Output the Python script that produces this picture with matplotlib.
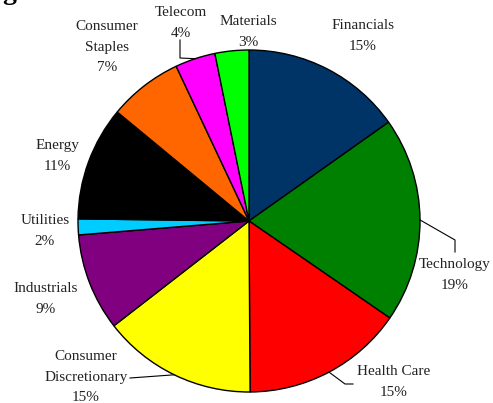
import numpy as np
import matplotlib
matplotlib.use("Agg")
import matplotlib.pyplot as plt

# ---- data ----
sectors = ["Financials", "Technology", "Health Care", "Consumer\nDiscretionary",
           "Industrials", "Utilities", "Energy", "Consumer\nStaples", "Telecom", "Materials"]
weights = [15.2, 19.4, 15.3, 14.6, 9.2, 1.5, 10.8, 7.0, 3.8, 3.2]
colors = ["#003366", "#008000", "#FF0000", "#FFFF00", "#800080",
          "#00CCFF", "#000000", "#FF6600", "#FF00FF", "#00FF00"]

# ---- layout (pixels) ----
W, H = 493, 403
CX, CY, R = 249, 221, 171
# label centres in pixels (x, y from top)
label_pos = [(363, 36), (455, 275), (394, 382), (86, 377), (46, 299),
             (45, 231), (57, 156), (107, 47), (181, 23), (248, 32)]
# leader elbows in pixels
leaders = {
    1: [(455, 240), (455, 252)],
    2: [(345, 384), (353, 384)],
    3: [(130, 378)],
    8: [(180, 58), (180, 40)],
}

def px(x, y):
    return ((x - CX) / R, (CY - y) / R)

fig = plt.figure(figsize=(W / 100, H / 100), dpi=100)
ax = fig.add_axes([0, 0, 1, 1])

wedges, _ = ax.pie(weights, colors=colors, startangle=90, counterclock=False,
                   radius=1.0, center=(0, 0), frame=True,
                   wedgeprops=dict(edgecolor="black", linewidth=1.0))
ax.set_xlim(-CX / R, (W - CX) / R)
ax.set_ylim(-(H - CY) / R, CY / R)
ax.set_aspect("auto")
ax.axis("off")

total = sum(weights)
for i, (name, w) in enumerate(zip(sectors, weights)):
    lx, ly = px(*label_pos[i])
    pct = int(w / total * 100 + 0.5 + 1e-6)
    ax.text(lx, ly, f"{name}\n{pct}%", ha="center", va="center",
            family="Liberation Serif", fontsize=11, color="#222222",
            linespacing=1.75, multialignment="center")
    if i in leaders:
        wd = wedges[i]
        mid = np.deg2rad((wd.theta1 + wd.theta2) / 2)
        pts = [(np.cos(mid), np.sin(mid))] + [px(*p) for p in leaders[i]]
        xs, ys = zip(*pts)
        ax.plot(xs, ys, color="black", linewidth=0.8)

# clipped title remnant at top-left (cut off in the reference too)
fig.text(2 / W, 1 + 1 / H, "g", fontsize=20, fontweight="bold",
         family="Liberation Serif", va="baseline", ha="left")

fig.savefig("out.png", dpi=100)
